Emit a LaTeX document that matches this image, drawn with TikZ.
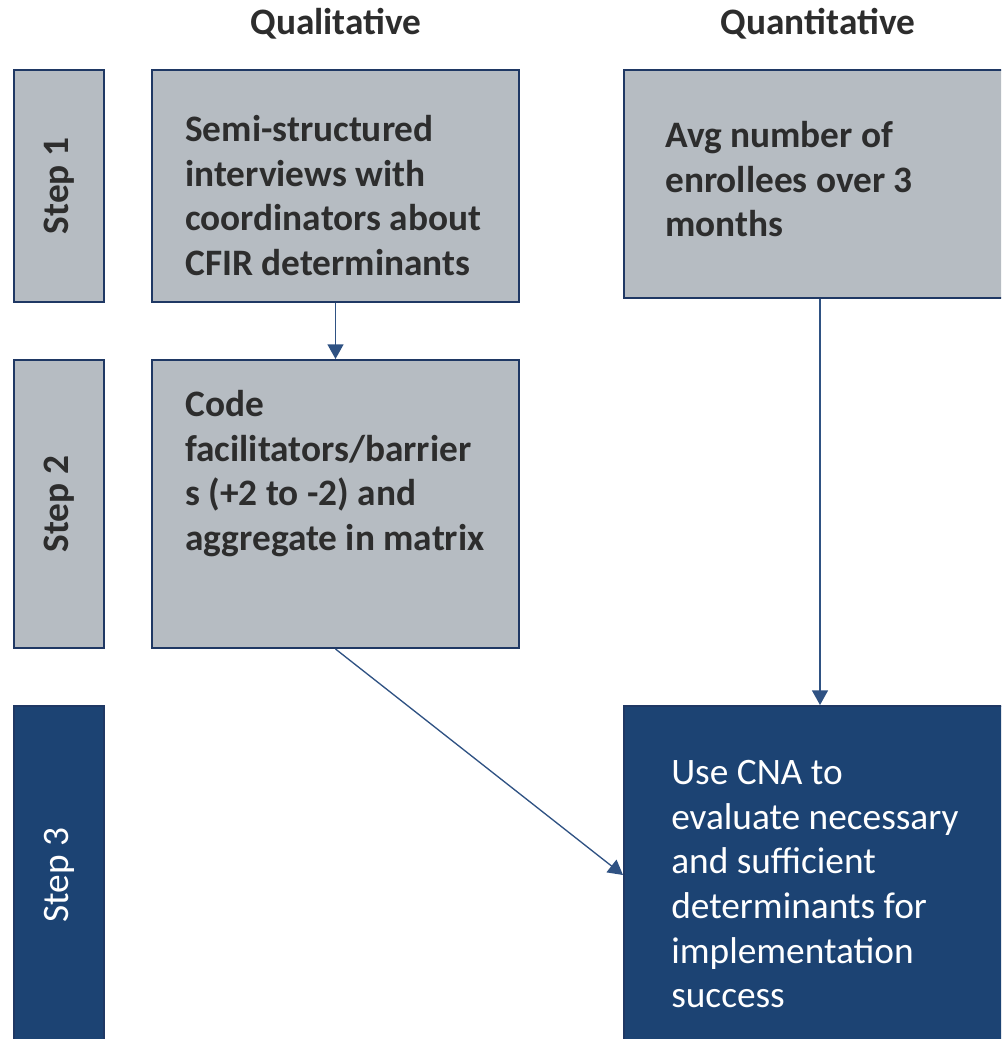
\documentclass[tikz,border=0pt]{standalone}
\usepackage{fontspec}
\setmainfont{Carlito}
\usetikzlibrary{arrows.meta}
\definecolor{boxgray}{RGB}{182,188,194}
\definecolor{boxblue}{RGB}{28,67,115}
\definecolor{edgeblue}{RGB}{31,56,100}
\definecolor{arrowblue}{RGB}{47,82,131}
\definecolor{textgray}{RGB}{45,45,45}
\begin{document}
\begin{tikzpicture}[x=0.75pt,y=-0.75pt]
    \tikzstyle{every node}=[font=\fontsize{28}{33.5}\selectfont,text=textgray];
    \tikzstyle{graybox}=[draw=edgeblue,line width=1.5pt,fill=boxgray,inner sep=0pt];
    \tikzstyle{bluebox}=[draw=edgeblue,line width=1.5pt,fill=boxblue,inner sep=0pt,text=white];
    \tikzstyle{boxtext}=[anchor=north west,inner sep=0pt,align=left,font=\fontsize{28}{33.5}\selectfont\bfseries];
    \tikzstyle{flow}=[draw=arrowblue,line width=1pt,-{Triangle[width=12pt,length=11pt]}];
    \clip (0,0) rectangle (1001,1039);
    \node at (336, 24) (qual) [font=\fontsize{28}{33.5}\selectfont\bfseries] {Qualitative};
    \node at (818, 24) (quant) [font=\fontsize{28}{33.5}\selectfont\bfseries] {Quantitative};
    \node at (59, 186)  (step1) [graybox,rotate=90,minimum width=174pt,minimum height=67.5pt,font=\fontsize{28}{33.5}\selectfont\bfseries] {Step 1};
    \node at (59, 504)  (step2) [graybox,rotate=90,minimum width=216pt,minimum height=67.5pt,font=\fontsize{28}{33.5}\selectfont\bfseries] {Step 2};
    \node at (59, 875)  (step3) [bluebox,rotate=90,minimum width=253.5pt,minimum height=67.5pt] {Step 3};
    \node at (335.5, 186) (interv) [graybox,minimum width=275.25pt,minimum height=174pt] {};
    \node at (335.5, 504) (coding) [graybox,minimum width=275.25pt,minimum height=216pt] {};
    \node at (820, 184)  (enroll) [graybox,minimum width=294pt,minimum height=171pt] {};
    \node at (820, 875)  (cna) [bluebox,minimum width=294pt,minimum height=253.5pt] {};
    \node at (185, 115) (intervtext) [boxtext] {Semi-structured\\interviews with\\coordinators about\\CFIR determinants};
    \node at (185, 390) (codingtext) [boxtext] {Code\\facilitators/barrier\\s (+2 to -2) and\\aggregate in matrix};
    \node at (665, 121) (enrolltext) [boxtext] {Avg number of\\enrollees over 3\\months};
    \node at (671, 760) (cnatext) [boxtext,font=\fontsize{28}{33.5}\selectfont,text=white] {Use CNA to\\evaluate necessary\\and sufficient\\determinants for\\implementation\\success};

    \draw[flow] (interv) -- (coding);
    \draw[flow] (enroll) -- (cna);
    \draw[flow] (coding.south) -- (cna.west);
\end{tikzpicture}
\end{document}
